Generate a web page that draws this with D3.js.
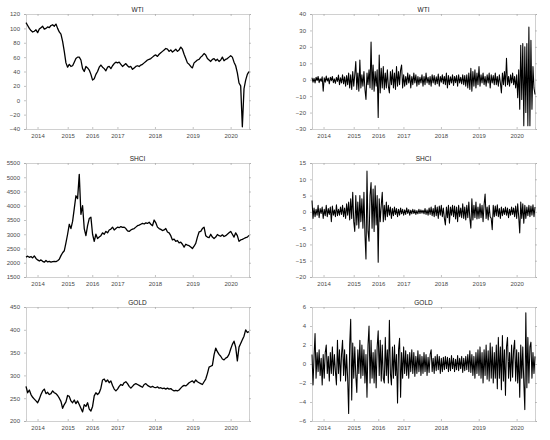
<!DOCTYPE html>
<html><head><meta charset="utf-8">
<script src="https://cdn.jsdelivr.net/npm/d3@7/dist/d3.min.js"></script>
<style>body{margin:0;background:#fff}svg{display:block}</style>
</head><body>
<svg id="chart" width="550" height="440"></svg>
<script>
// ---- data ----
const seriesNames = ["WTI", "SHCI", "GOLD"];
const yearLabels = ["2014","2015","2016","2017","2018","2019","2020"];
// trading-day number at which each year label sits (series span ~1700 days)
const totalDays = 1700;
const yearTickDays = [88, 318, 505, 697, 983, 1271, 1560];

const wtiPrice = [108,104,100,97,95,96,98,94,99,101,103,99,100,102,101,104,105,103,106,100,
95,92,82,68,52,46,50,47,48,53,58,60,60,56,44,40,47,45,42,36,
28,30,36,40,46,49,46,44,41,46,47,44,48,51,53,52,53,50,47,49,
51,48,46,47,43,45,47,48,47,49,50,52,54,56,57,58,60,62,63,61,
64,66,68,70,72,71,68,70,67,69,71,68,70,74,71,64,58,52,50,47,
45,52,54,56,57,60,62,65,63,58,56,54,57,58,55,57,54,56,60,55,
57,58,60,62,60,53,48,38,24,20,-37,16,28,36,40];

const shciPrice = [2200,2230,2190,2220,2170,2240,2150,2100,2060,2100,2050,2020,2080,2030,2050,2020,2040,2050,2040,2070,
2120,2250,2350,2420,2700,3000,3350,3200,3450,3900,4350,4250,5100,3700,4000,3200,2950,3300,3550,3600,
3000,2750,3000,2850,2900,2950,3050,3000,3100,3050,3150,3180,3250,3150,3200,3250,3230,3270,3240,3250,
3200,3120,3100,3150,3180,3200,3250,3300,3320,3350,3380,3360,3400,3380,3420,3350,3300,3500,3400,3250,
3200,3170,3130,3150,3200,3080,3050,2950,2800,2830,2750,2780,2700,2720,2650,2550,2650,2620,2600,2550,
2500,2580,2680,2900,3080,3100,3200,3250,2950,2900,2880,3000,2900,2850,2900,2990,2950,2930,2980,2920,
2950,3000,3050,3100,3000,2900,3050,2950,2750,2800,2820,2850,2880,2900,2960];

const goldPrice = [276,262,268,258,252,248,244,240,248,258,266,270,260,263,258,260,266,262,260,256,
250,243,228,236,242,256,254,244,240,246,238,244,236,228,220,236,232,240,226,222,
232,255,262,258,262,272,290,292,286,290,284,288,278,270,266,270,276,280,278,284,
286,282,276,272,276,280,282,280,278,276,274,280,282,278,276,274,276,274,273,275,
272,273,271,272,270,272,270,271,268,266,267,266,268,272,276,278,277,280,284,286,
288,284,290,286,284,282,280,286,292,304,318,320,322,345,360,352,346,342,336,334,
338,340,346,358,368,375,362,332,362,370,378,386,400,394,396];

const wtiReturn = [1.2,-1.5,0.8,-2,1.5,-0.5,2,-1.8,0.6,-1,
1.8,-7,1.2,-1.5,2.2,-0.8,1,-2.5,1.5,-0.6,
2,-1.8,0.5,-2.2,1.4,-1,2.8,-3,1.2,-2,
3,-2.5,1.8,-4,2.5,-3,4,-5,3,-6,
5,-4,3,11,-6,4,-7,12,-5,3,
-4,5,-6,-12,4,-3,6,-5,23,-6,
9,-7,5,-4,6,-23,15,-8,7,-5,
8,-6,4,-5,6,-4,-8,5,-3,6,
-5,4,-6,8,-4,5,-3,6,9,-5,
3,-4,2,-3,4,-2,3,-5,2,-3,
4,-2,3,-4,2,-3,1.5,-2,3,-4,
2,-3,4,-2,1.5,-3,2,-4,3,-2,
2.5,-3,1.8,-2.5,3.5,-4,2,-1.5,3,-2.5,
2,-3,4,-5,2.5,-3,1.8,-2,3,-3.5,
2,-1.8,2.5,-4,3,-2,1.5,-2.5,3,-3,
2.5,-4,3,-5,4,-6,7,-7,5,-4,
6,-5,4,-3,8,-4,3,-2,4,-3,
2,-4,3,-2,4,-5,3,-2,2.5,-3,
4,-3,2,-4,3,-2,-8,4,-3,5,
-4,13,-3,2,-4,3,-2,4,-3,2,
-5,3,-11,6,-18,21,-12,22,-28,20,
-20,22,-28,32,-28,24,-18,8,-5,-9];

const shciReturn = [3.5,-2,1.2,-1.5,0.8,-1,2,-1.8,1,-0.5,
1.5,-2,0.8,-1.2,2,-1.5,1,-0.8,1.5,-3,
1.8,-1,0.6,-1.5,2.2,-1.2,0.8,-1,1.5,-0.8,
2,-1.5,1.2,-2,2.5,-1,3,-2.5,4,-2,
6,-3,-6,5,-4,3,-5,5,-3,4,
-5,6,-7,-14.5,12.5,-6,-9,5,9,-5,
7,-6,8,-4,5,-15.5,4,-3,2,6,
-3,2,-2.5,3,-1.5,2,-1,1.5,-2,1,
-1.2,1.5,-0.8,1,-1.5,0.8,-1,1.2,-0.6,0.8,
-1,0.6,-0.8,1.2,-0.5,0.7,-1,0.5,-0.6,0.8,
-0.5,0.6,-0.8,0.4,-0.6,0.8,-0.5,0.6,-0.4,0.5,
-0.6,1,-0.8,0.6,-1,1.2,-0.8,1.5,-1.2,1,
-1.5,2,-1.2,1.5,-2,1.8,-1,2,-1.5,1.2,
-2,-4,1.5,-1.8,2,-3.5,1.5,-1,2,-1.5,
1.8,-2.2,1.5,-3,2,-1.5,1.2,-1.8,2.5,-2,
1.5,-2.5,2,-1.8,3,-2,-5,4,-2.5,2,
-1.8,3,-2.2,1.5,-2,2.5,-1.8,2,-3,2.2,
5.5,-2,1.5,-2.5,2,-1.5,-2,-5.5,2,-1.5,
1.8,-1.2,2.2,-1.5,1,-2,1.5,-1.2,1,-0.8,
1.5,-1,1.2,-1.8,0.8,-1,1.5,-0.8,1.2,-1.5,
1.8,-2,2.5,-1.5,-6.5,3,-2,2.5,-3.5,2,
-2,1.5,-1.2,2,-1.5,1.8,-1,2.2,-1.5,1.5];

const goldReturn = [1,-2.2,0.8,3.2,-1.5,1.2,-0.8,1.5,-1.2,0.6,
-2.2,1,-1.5,1.2,2,-1,0.8,-1.8,1.2,-1,
1.8,-1.2,1,-0.8,-2.2,2.5,-1,1.5,-1.8,1,
2.5,-1.2,1.5,-1.8,1,-1.5,-5.2,2,4.7,-3.8,
2.2,-1.5,1.8,-1.2,-3,1.5,-1,2.5,-1.5,2,
-1.2,1.5,-2,1,-3.5,2,4,-2,2.5,-1.5,
1.2,-2,1.5,-2.5,1.8,3.5,-1.2,2.5,-1.8,2,
-1.5,-2,2.8,-1.2,1.5,-2,4.6,-1,-2.2,1.8,
-1.5,2,-1.2,1,-4.1,1.5,2.7,-3.5,1.2,-1.5,
1.8,-1,1.4,-1.2,1,-1.5,1.2,-0.8,1.5,-1,
1.2,-1.3,0.8,-1,1.4,-0.8,1,-1.2,0.8,-1,
1.2,-0.8,1,-1.2,0.7,-0.9,1,1.5,-0.8,0.6,
-1,0.8,-0.7,1,-0.6,0.8,-1,0.6,-0.8,0.7,
-0.6,0.8,-0.5,0.7,-0.8,0.6,-0.7,0.9,-0.5,0.6,
-0.8,0.5,-0.6,0.9,-0.7,0.6,-0.5,0.8,-0.9,0.6,
-0.7,0.8,-0.6,1,-0.8,1.4,-0.9,1,-1.2,0.8,
-1.5,1.2,-1,1.5,-1.2,1.8,-1.5,1.2,-2,1.5,
-1.2,2,-1.6,1.4,-1.8,2.2,-1.5,1.8,-2,1.2,
-1.5,2,-2.6,2.8,-1.5,1.8,-2.7,3,-1.8,1.5,
-3.3,1.8,2.8,-1.5,1.2,-1.8,2,-1.4,1.5,2.5,
-1.8,1.5,-2,1.2,-3.5,2,-1.5,1.8,-2,-4.8,
5.4,-2.5,2.8,-2,1.8,2.3,-1.5,1.2,-1,0.8];

const priceTicks = [[-40,-20,0,20,40,60,80,100,120],[1500,2000,2500,3000,3500,4000,4500,5000,5500],[200,250,300,350,400,450]];
const returnTicks = [[-30,-20,-10,0,10,20,30,40],[-20,-15,-10,-5,0,5,10,15],[-6,-4,-2,0,2,4,6]];

// ---- layout ----
const cols = [{x0:26, x1:249}, {x0:312, x1:535}];
const rows = [{y0:14, y1:129}, {y0:163, y1:277}, {y0:307, y1:421}];
const font = "'Liberation Sans', Arial, sans-serif";

const svg = d3.select("#chart");
const prices = [wtiPrice, shciPrice, goldPrice];
const rets = [wtiReturn, shciReturn, goldReturn];

function panel(col, row, values, ticks, title, lw) {
  const x = d3.scaleLinear().domain([0, totalDays]).range([col.x0, col.x1]);
  const y = d3.scaleLinear().domain([ticks[0], ticks[ticks.length-1]]).range([row.y1, row.y0]);
  const step = totalDays / (values.length - 1);
  const g = svg.append("g");
  const axL = g.append("g").attr("transform", `translate(${col.x0},0)`)
    .call(d3.axisLeft(y).tickValues(ticks).tickSize(2).tickFormat(d3.format("d")));
  const axR = g.append("g").attr("transform", `translate(${col.x1},0)`)
    .call(d3.axisLeft(y).tickValues(ticks).tickSize(-2).tickFormat(""));
  const axB = g.append("g").attr("transform", `translate(0,${row.y1})`)
    .call(d3.axisBottom(x).tickValues(yearTickDays).tickSize(-2).tickPadding(5).tickFormat((d,i)=>yearLabels[i]));
  const axT = g.append("g").attr("transform", `translate(0,${row.y0})`)
    .call(d3.axisTop(x).tickValues(yearTickDays).tickSize(-2).tickFormat(""));
  [axL, axR, axB, axT].forEach(a => {
    a.select(".domain").attr("stroke", "#c4c4c4").attr("stroke-width", 0.8);
    a.selectAll(".tick line").attr("stroke", "#9a9a9a").attr("stroke-width", 0.6);
    a.selectAll("text").attr("font-family", font).attr("font-size", 6).attr("fill", "#4a4a4a");
  });
  axL.selectAll("text").attr("dx", -1);
  const line = d3.line().x((d,i) => x(i*step)).y(d => y(d));
  g.append("path").datum(values).attr("d", line)
    .attr("fill", "none").attr("stroke", "#000").attr("stroke-width", lw).attr("stroke-linejoin", "round");
  g.append("text").attr("x", (col.x0+col.x1)/2).attr("y", row.y0 - 2.5)
    .attr("text-anchor", "middle").attr("font-family", font).attr("font-size", 6.5).attr("fill", "#1a1a1a")
    .text(title);
}

for (let r = 0; r < 3; r++) {
  panel(cols[0], rows[r], prices[r], priceTicks[r], seriesNames[r], 1.3);
  panel(cols[1], rows[r], rets[r], returnTicks[r], seriesNames[r], 1.05);
}
</script>
</body></html>
